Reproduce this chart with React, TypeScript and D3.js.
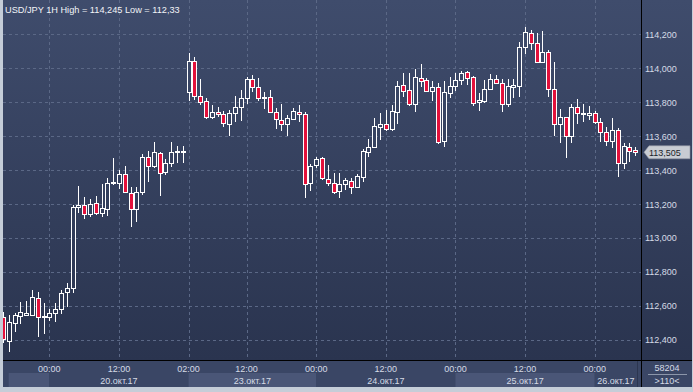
import React from 'react';
import * as d3 from 'd3';

const W = 693;
const H = 392;

// hourly candles (index 0 = leftmost)
const opens = [
  112.536, 112.395, 112.497, 112.538, 112.548, 112.546, 112.644, 112.533, 112.532, 112.560,
  112.580, 112.680, 112.703, 113.181, 113.192, 113.141, 113.204, 113.147, 113.169, 113.322,
  113.322, 113.375, 113.267, 113.169, 113.273, 113.475, 113.424, 113.499, 113.387, 113.440,
  113.508, 113.504, 113.858, 114.043, 113.837, 113.805, 113.711, 113.742, 113.729, 113.670,
  113.735, 113.770, 113.823, 113.935, 113.888, 113.832, 113.829, 113.742, 113.695, 113.670,
  113.699, 113.742, 113.731, 113.322, 113.428, 113.469, 113.346, 113.322, 113.279, 113.316,
  113.337, 113.302, 113.362, 113.504, 113.538, 113.656, 113.670, 113.642, 113.740, 113.901,
  113.872, 113.789, 113.941, 113.931, 113.868, 113.888, 113.573, 113.857, 113.896, 113.929,
  113.976, 113.946, 113.799, 113.809, 113.878, 113.935, 113.911, 113.788, 113.888, 113.897,
  114.125, 114.206, 114.147, 114.035, 114.098, 113.876, 113.670, 113.711, 113.603, 113.770,
  113.731, 113.723, 113.735, 113.682, 113.623, 113.573, 113.636, 113.444, 113.538, 113.517,
];
const highs = [
  112.564, 112.546, 112.560, 112.623, 112.629, 112.693, 112.680, 112.616, 112.580, 112.616,
  112.693, 112.733, 113.194, 113.306, 113.243, 113.228, 113.247, 113.318, 113.352, 113.470,
  113.400, 113.424, 113.299, 113.299, 113.495, 113.514, 113.567, 113.508, 113.464, 113.567,
  113.542, 113.542, 114.092, 114.068, 113.937, 113.823, 113.784, 113.774, 113.750, 113.754,
  113.837, 113.872, 113.949, 113.960, 113.941, 113.862, 113.872, 113.764, 113.789, 113.725,
  113.764, 113.782, 113.740, 113.436, 113.479, 113.479, 113.430, 113.381, 113.381, 113.355,
  113.352, 113.377, 113.522, 113.583, 113.705, 113.735, 113.754, 113.784, 113.925, 113.970,
  113.974, 113.994, 114.025, 113.941, 113.927, 113.911, 113.925, 113.947, 113.970, 113.986,
  113.984, 113.953, 113.852, 113.931, 113.966, 113.960, 113.935, 113.935, 113.935, 114.154,
  114.245, 114.226, 114.206, 114.218, 114.108, 114.039, 113.758, 113.715, 113.789, 113.817,
  113.789, 113.778, 113.750, 113.705, 113.652, 113.705, 113.646, 113.558, 113.558, 113.535,
];
const lows = [
  112.381, 112.330, 112.448, 112.493, 112.540, 112.540, 112.414, 112.436, 112.512, 112.507,
  112.552, 112.595, 112.674, 113.147, 113.110, 113.122, 113.135, 113.125, 113.129, 113.312,
  113.287, 113.269, 113.063, 113.096, 113.253, 113.328, 113.412, 113.249, 113.371, 113.420,
  113.440, 113.440, 113.809, 113.813, 113.784, 113.701, 113.701, 113.711, 113.656, 113.603,
  113.685, 113.691, 113.788, 113.858, 113.809, 113.758, 113.735, 113.640, 113.632, 113.603,
  113.695, 113.682, 113.238, 113.279, 113.412, 113.342, 113.309, 113.261, 113.238, 113.283,
  113.261, 113.299, 113.332, 113.479, 113.532, 113.577, 113.632, 113.630, 113.672, 113.832,
  113.778, 113.744, 113.891, 113.862, 113.809, 113.552, 113.538, 113.825, 113.866, 113.899,
  113.903, 113.775, 113.750, 113.794, 113.872, 113.911, 113.740, 113.774, 113.827, 113.832,
  114.084, 114.108, 114.029, 114.029, 113.832, 113.601, 113.561, 113.473, 113.557, 113.670,
  113.685, 113.695, 113.670, 113.567, 113.544, 113.532, 113.362, 113.405, 113.450, 113.482,
];
const closes = [
  112.403, 112.503, 112.544, 112.562, 112.556, 112.650, 112.532, 112.540, 112.556, 112.580,
  112.674, 112.703, 113.181, 113.192, 113.141, 113.200, 113.147, 113.175, 113.322, 113.328,
  113.375, 113.273, 113.169, 113.273, 113.475, 113.424, 113.504, 113.381, 113.440, 113.508,
  113.514, 113.510, 114.043, 113.837, 113.799, 113.711, 113.742, 113.731, 113.676, 113.735,
  113.770, 113.823, 113.935, 113.888, 113.823, 113.823, 113.740, 113.699, 113.670, 113.705,
  113.748, 113.731, 113.316, 113.424, 113.467, 113.352, 113.322, 113.273, 113.316, 113.340,
  113.302, 113.366, 113.512, 113.538, 113.660, 113.670, 113.642, 113.748, 113.896, 113.868,
  113.788, 113.947, 113.927, 113.868, 113.888, 113.567, 113.858, 113.896, 113.930, 113.970,
  113.941, 113.798, 113.813, 113.876, 113.935, 113.915, 113.788, 113.896, 113.901, 114.125,
  114.212, 114.147, 114.039, 114.098, 113.876, 113.670, 113.711, 113.603, 113.770, 113.735,
  113.735, 113.735, 113.682, 113.623, 113.573, 113.636, 113.440, 113.544, 113.514, 113.505,
];

const priceTicks = [112.4, 112.6, 112.8, 113.0, 113.2, 113.4, 113.6, 113.8, 114.0, 114.2];
const timeTickIdx = [8, 20, 32, 42, 54, 66, 78, 90, 102];
const timeTickLabels = ['00:00', '12:00', '02:00', '12:00', '00:00', '12:00', '00:00', '12:00', '00:00'];
const dayStartIdx = [1, 8, 32, 54, 78, 102];
const dayLabels = ['', '20.окт.17', '23.окт.17', '24.окт.17', '25.окт.17', '26.окт.17'];

const lastPrice = 113.505;
const title = 'USD/JPY 1H High = 114,245 Low = 112,33';
const cornerTop = '58204';
const cornerBottom = '>110<';

const FONT = '"Liberation Sans", Arial, sans-serif';

const fmt = (v: number) => v.toFixed(3).replace('.', ',');

export default function App() {
  const plotL = 3, plotR = 641, plotB = 360;
  const axisBottom = 387;
  const timeAxisEnd = 637;

  const x = d3.scaleLinear().domain([0, 109]).range([2.9, 635.3]);
  const y = d3.scaleLinear().domain([112.4, 114.0]).range([339.8, 68.3]);
  const px = (v: number) => Math.round(v) + 0.5;

  const candles = d3.range(opens.length).map(i => ({
    i, o: opens[i], h: highs[i], l: lows[i], c: closes[i],
  }));

  const bandEnds = dayStartIdx.map((d, k) => k < dayStartIdx.length - 1 ? x(dayStartIdx[k + 1]) : timeAxisEnd);

  const my = y(lastPrice);

  return (
    <svg width={W} height={H} style={{ position: 'absolute', left: 0, top: 0, display: 'block' }}
      fontFamily={FONT}>
      <defs>
        <linearGradient id="bg" gradientUnits="userSpaceOnUse" x1="0" y1="0" x2="0" y2={plotB}>
          <stop offset="0" stopColor="#3f4c6c" />
          <stop offset="1" stopColor="#2a344f" />
        </linearGradient>
        <clipPath id="plotClip">
          <rect x={plotL} y={0} width={plotR - plotL} height={plotB} />
        </clipPath>
      </defs>

      {/* frame */}
      <rect x={0} y={0} width={W} height={H} fill="#c5cdd8" />
      <rect x={plotL} y={0} width={plotR - plotL} height={plotB} fill="url(#bg)" />
      <rect x={plotR + 1} y={0} width={W - plotR - 2} height={plotB} fill="url(#bg)" />

      {/* time axis */}
      <rect x={plotL} y={plotB + 1} width={plotR - plotL} height={axisBottom - plotB - 1} fill="#3a4665" />
      {dayStartIdx.map((d, k) => (
        <rect key={'band' + k} x={x(d)} y={373} width={bandEnds[k] - x(d)} height={axisBottom - 373}
          fill={k % 2 === 0 ? '#4a5677' : '#3a4665'} />
      ))}
      <line x1={timeAxisEnd + 0.5} x2={timeAxisEnd + 0.5} y1={plotB + 1} y2={axisBottom} stroke="#2c3650" />
      <rect x={plotR + 1} y={plotB + 1} width={W - plotR - 2} height={axisBottom - plotB - 1} fill="#3a4665" />

      {/* grid */}
      <g stroke="#5b6886" strokeDasharray="3,3" strokeWidth={1}>
        {priceTicks.map(t => (
          <line key={'h' + t} x1={plotL} x2={plotR} y1={px(y(t))} y2={px(y(t))} />
        ))}
        {timeTickIdx.map(t => (
          <line key={'v' + t} x1={px(x(t))} x2={px(x(t))} y1={0} y2={plotB} />
        ))}
      </g>

      {/* candles */}
      <g clipPath="url(#plotClip)">
        {candles.map(d => {
          const cx = Math.round(x(d.i)) + 0.5;
          const up = d.c >= d.o;
          const top = Math.round(y(Math.max(d.o, d.c)));
          const bot = Math.round(y(Math.min(d.o, d.c)));
          const hgt = Math.max(bot - top, 1);
          return (
            <g key={d.i}>
              <line x1={cx} x2={cx} y1={Math.round(y(d.h))} y2={Math.round(y(d.l))} stroke="#ffffff" />
              <rect x={cx - 2} y={top + 0.5} width={4} height={hgt}
                fill={up ? 'url(#bg)' : '#e3113b'} stroke="#ffffff" strokeWidth={1} />
            </g>
          );
        })}
      </g>

      {/* separators */}
      <line x1={plotR + 0.5} x2={plotR + 0.5} y1={0} y2={axisBottom} stroke="#000" />
      <line x1={plotL} x2={W - 1} y1={plotB + 0.5} y2={plotB + 0.5} stroke="#000" />

      {/* title */}
      <text x={5} y={12.5} fontSize={9.2} fill="#f2f4f8">{title}</text>

      {/* price axis labels */}
      <g fontSize={9} fill="#d5dbe6">
        {priceTicks.map(t => (
          <text key={'p' + t} x={645} y={y(t) + 3.5}>{fmt(t)}</text>
        ))}
      </g>

      {/* last price marker */}
      <path d={`M${plotR + 3},${my} L${plotR + 8},${my - 6.5} L${W - 3},${my - 6.5} L${W - 3},${my + 6.5} L${plotR + 8},${my + 6.5} Z`}
        fill="#c8ccd3" stroke="#8f96a3" strokeWidth={0.6} />
      <text x={649} y={my + 3.5} fontSize={9} fill="#1b1f29">{fmt(lastPrice)}</text>

      {/* time labels */}
      <g fontSize={9} fill="#d5dbe6" textAnchor="middle">
        {timeTickIdx.map((t, k) => (
          <text key={'t' + k} x={x(t)} y={371.5}>{timeTickLabels[k]}</text>
        ))}
        {dayStartIdx.map((d, k) => dayLabels[k] ? (
          <text key={'d' + k} x={(x(d) + bandEnds[k]) / 2} y={383.5}>{dayLabels[k]}</text>
        ) : null)}
      </g>

      {/* corner cell */}
      <g fontSize={9} fill="#d5dbe6" textAnchor="middle">
        <text x={667} y={371}>{cornerTop}</text>
        <line x1={648} x2={687} y1={374.5} y2={374.5} stroke="#8c96aa" />
        <text x={667} y={384}>{cornerBottom}</text>
      </g>
    </svg>
  );
}
